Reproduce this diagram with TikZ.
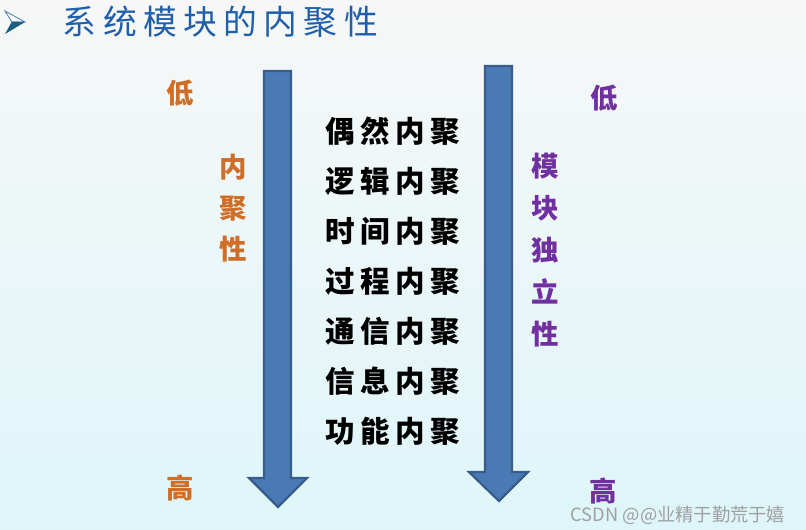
\documentclass[tikz,border=0pt]{standalone}
\usepackage{fontspec}
\setmainfont{Liberation Sans}
\newfontfamily\cjk{Noto Sans CJK SC}
\newfontfamily\cjkwide[LetterSpace=19]{Noto Sans CJK SC}
\newfontfamily\cjktitle[LetterSpace=19]{Noto Sans CJK SC}
\usetikzlibrary{positioning}

\definecolor{titleblue}{RGB}{31,95,170}
\definecolor{bulletdark}{RGB}{27,94,126}
\definecolor{bgtop}{RGB}{247,247,247}
\definecolor{bgbottom}{RGB}{222,246,249}
\definecolor{lowhigh}{RGB}{206,110,40}
\definecolor{indep}{RGB}{112,48,160}
\definecolor{arrowfill}{RGB}{74,122,180}
\definecolor{arrowline}{RGB}{56,93,140}

\begin{document}
\begin{tikzpicture}[
        x=0.025cm, y=-0.025cm,
        bigarrow/.style = {draw=arrowline, line width=1.6pt, fill=arrowfill, line join=miter},
        titletext/.style = {text=titleblue, font=\cjktitle\fontsize{24}{28}\selectfont, anchor=west},
        item/.style = {font=\cjkwide\bfseries\fontsize{21}{25}\selectfont},
        lefttext/.style = {text=lowhigh, font=\cjk\bfseries\fontsize{19.5}{29}\selectfont, align=center},
        righttext/.style = {text=indep, font=\cjk\bfseries\fontsize{19.5}{30}\selectfont, align=center}
        ]

    % Hintergrund
    \shade[top color=bgtop, bottom color=bgbottom] (0,0) rectangle (806,529);
    \useasboundingbox (0,0) rectangle (806,529);

    % Titel
    \filldraw[fill=white, draw=titleblue!80, line width=0.6pt] (5,11) -- (25,22) -- (12,22) -- cycle;
    \fill[bulletdark] (12,21.5) -- (25,22) -- (5,34) -- cycle;
    \node[titletext] (title) at (58,22) {系统模块的内聚性};

    % Pfeile
    \draw[bigarrow] (264,71) -- (291,71) -- (291,478) -- (307,478) -- (278,507)
        -- (249,478) -- (264,478) -- cycle;
    \draw[bigarrow] (485,66) -- (512,66) -- (512,472) -- (528,472) -- (499,501)
        -- (469,472) -- (485,472) -- cycle;

    % Kohaesionsarten
    \foreach \w [count=\i from 0] in {偶然内聚,逻辑内聚,时间内聚,过程内聚,通信内聚,信息内聚,功能内聚}
        \node[item] (k\i) at (393,131+50*\i) {\w};

    % Beschriftungen links
    \node[lefttext] (lowL) at (180,93) {低};
    \node[lefttext] (cohesion) at (233,208) {内\\聚\\性};
    \node[lefttext] (highL) at (180,488) {高};

    % Beschriftungen rechts
    \node[righttext] (lowR) at (604,98) {低};
    \node[righttext] (independence) at (545,250) {模\\块\\独\\立\\性};
    \node[righttext] (highR) at (603,491) {高};

    % Wasserzeichen
    \node[text=gray!75, font=\cjk\fontsize{13}{15}\selectfont] (mark) at (678,515)
        {CSDN @@业精于勤荒于嬉};

\end{tikzpicture}
\end{document}
